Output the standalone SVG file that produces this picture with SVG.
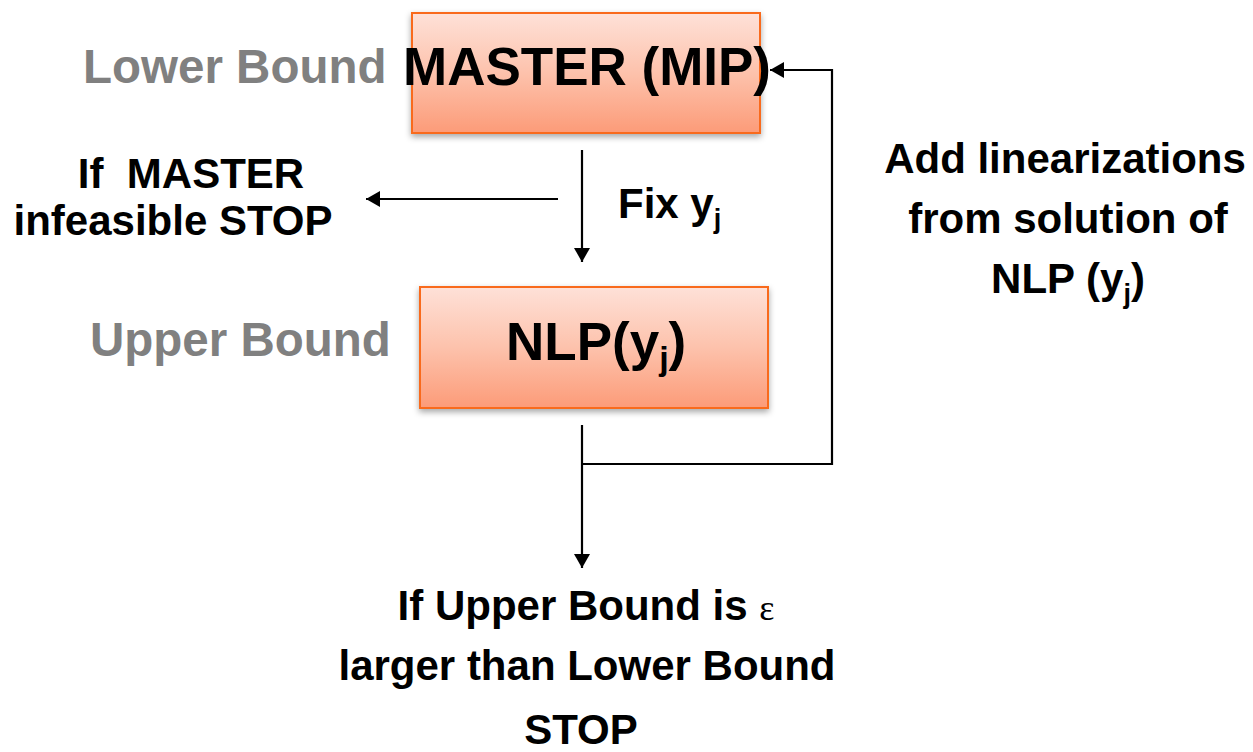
<svg xmlns="http://www.w3.org/2000/svg" width="1253" height="752" viewBox="0 0 1253 752">
<style>
text{font-family:"Liberation Sans",Arial,sans-serif;font-weight:bold;fill:#000}
.gray{fill:#808080;font-size:47.5px}
.lbl{font-size:42px}
.box{fill:url(#g);stroke:#f96a1c;stroke-width:2;filter:url(#sh)}
.ln{stroke:#000;stroke-width:2.2;fill:none}
</style>
<defs>
<linearGradient id="g" x1="0" y1="0" x2="0" y2="1">
<stop offset="0" stop-color="#fee1d8"/>
<stop offset="0.5" stop-color="#fdc2ac"/>
<stop offset="1" stop-color="#fc9b78"/>
</linearGradient>
<filter id="sh" x="-10%" y="-10%" width="120%" height="130%">
<feDropShadow dx="0" dy="3" stdDeviation="3" flood-color="#000" flood-opacity="0.35"/>
</filter>
<marker id="a" viewBox="0 0 14 16" refX="14" refY="8" markerWidth="14" markerHeight="16" orient="auto" markerUnits="userSpaceOnUse">
<path d="M0,0 L14,8 L0,16 z" fill="#000"/>
</marker>
</defs>
<g id="master">
<rect class="box" x="412" y="13" width="348" height="120"/>
<text x="403" y="85" style="font-size:53px">MASTER (MIP)</text>
</g>
<g id="nlp">
<rect class="box" x="420" y="287" width="348" height="121"/>
<text x="506" y="360" style="font-size:53px">NLP(y<tspan font-size="34" dy="10">j</tspan><tspan dy="-10">)</tspan></text>
</g>
<g id="lower-bound"><text class="gray" x="83" y="83">Lower Bound</text></g>
<g id="upper-bound"><text class="gray" x="90" y="356">Upper Bound</text></g>
<g id="infeasible">
<text class="lbl" x="191" y="188" text-anchor="middle">If&#160; MASTER</text>
<text class="lbl" x="173" y="235" text-anchor="middle">infeasible STOP</text>
</g>
<g id="fix"><text class="lbl" x="618" y="218">Fix y<tspan font-size="27" dy="10">j</tspan></text></g>
<g id="add">
<text class="lbl" x="1065" y="173" text-anchor="middle">Add linearizations</text>
<text class="lbl" x="1068" y="233" text-anchor="middle">from solution of</text>
<text class="lbl" x="1068" y="293" text-anchor="middle">NLP (y<tspan font-size="27" dy="10">j</tspan><tspan dy="-10">)</tspan></text>
</g>
<g id="stop">
<text class="lbl" x="586" y="620" text-anchor="middle">If Upper Bound is <tspan font-family="'Liberation Serif',serif" font-weight="normal" font-size="36">ε</tspan></text>
<text class="lbl" x="587" y="680" text-anchor="middle">larger than Lower Bound</text>
<text class="lbl" x="581" y="744" text-anchor="middle">STOP</text>
</g>
<g id="connectors">
<line class="ln" x1="582" y1="150" x2="582" y2="262" marker-end="url(#a)"/>
<line class="ln" x1="558" y1="199" x2="366" y2="199" marker-end="url(#a)"/>
<line class="ln" x1="582" y1="425" x2="582" y2="568" marker-end="url(#a)"/>
<polyline class="ln" points="582,464 832,464 832,70 770,70" marker-end="url(#a)"/>
</g>
</svg>
